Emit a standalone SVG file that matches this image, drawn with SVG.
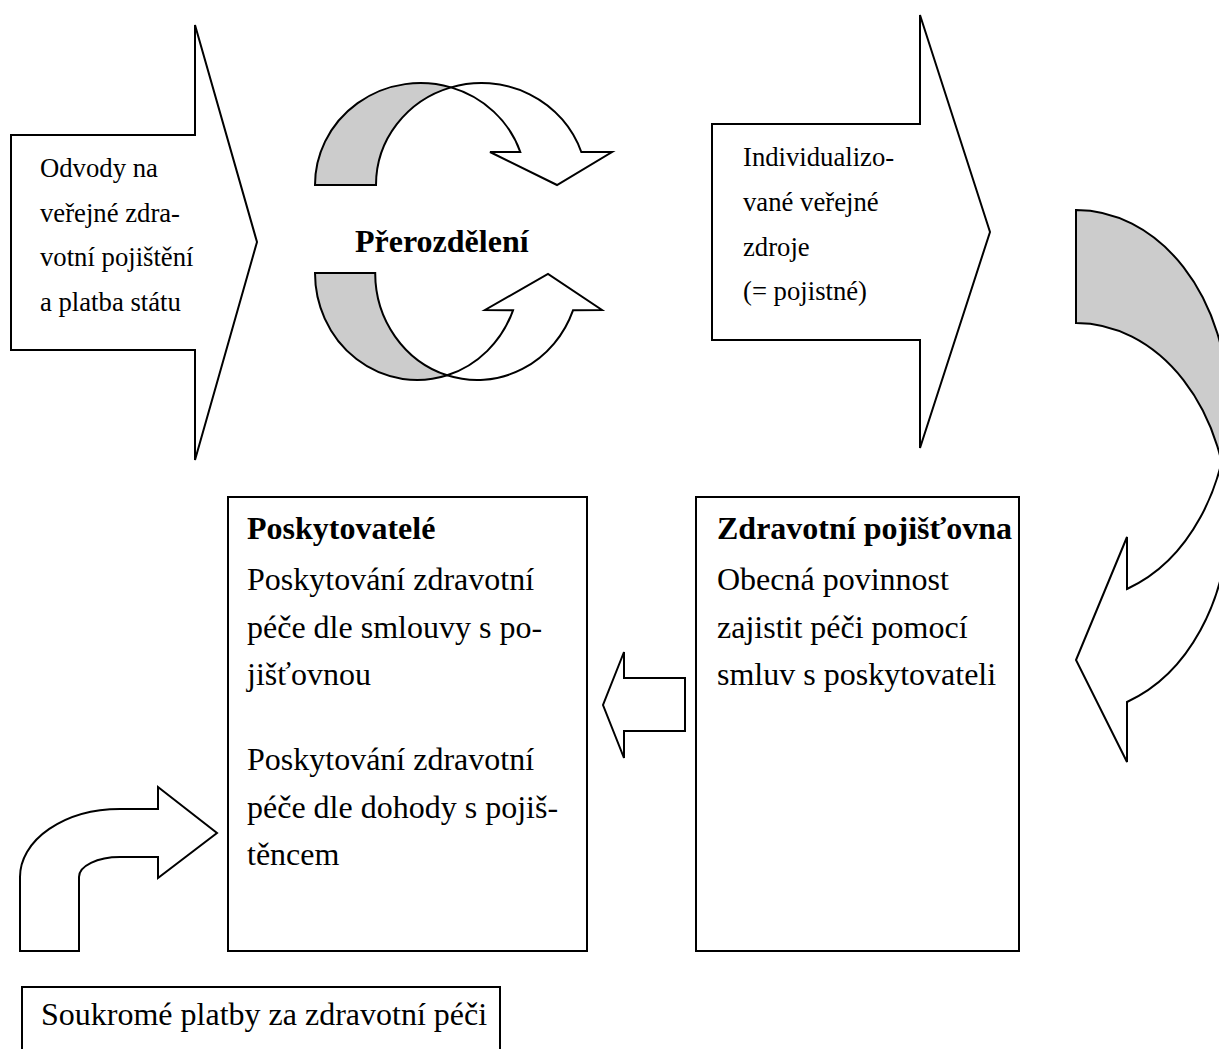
<svg xmlns="http://www.w3.org/2000/svg" width="1219" height="1049" viewBox="0 0 1219 1049">
<style>
.s{fill:#fff;stroke:#000;stroke-width:2;stroke-linejoin:miter}
.g{fill:#cccccc;stroke:#000;stroke-width:2}
.t{font-family:"Liberation Serif","Times New Roman",serif;fill:#000}
.sm{font-size:26.7px}
.md{font-size:32px}
.b{font-weight:bold}
</style>
<rect width="1219" height="1049" fill="#fff"/>
<g id="connectors">
<g id="redistribution-top">
<path class="g" d="M315,185 A105.5,102 0 0 1 451,87.4 A105.5,102 0 0 0 376,185 Z"/>
<path class="s" d="M451,87.4 A105.5,102 0 0 1 581.3,152 L612,152 L557,185 L490,152 L520.3,152 A105.5,102 0 0 0 451,87.4 Z"/>
</g>
<g id="redistribution-bottom">
<path class="g" d="M315,273 A102.2,107 0 0 0 447.2,375.3 A102.2,107 0 0 1 375.2,273 Z"/>
<path class="s" d="M447.2,375.3 A102.2,107 0 0 0 573,310.3 L602,310 L548,274 L485,310 L513,310.3 A102.2,107 0 0 1 447.2,375.3 Z"/>
</g>
<g id="curved-right">
<path class="g" d="M1076,210 A152,195 0 0 1 1228,405 L1228,518 A152,195 0 0 0 1076,323 Z"/>
<path class="s" d="M1228,405 A152,195 0 0 1 1127,589 L1127,537 L1076,660 L1127,762 L1127,702 A152,195 0 0 0 1228,518 Z"/>
</g>
<path id="arrow-to-providers" class="s" d="M685,678 L624,678 L624,652 L603,705 L624,758 L624,731 L685,731 Z"/>
<path id="bent-arrow" class="s" d="M20,951 L20,877 A100,68 0 0 1 120,809 L158,809 L158,787 L217,833 L158,878 L158,857 L120,857 A41,20 0 0 0 79,877 L79,951 Z"/>
</g>
<g id="odvody">
<path class="s" d="M11,135 L195,135 L195,25 L257,242 L195,460 L195,350 L11,350 Z"/>
<text class="t sm" x="40" y="177">Odvody na</text>
<text class="t sm" x="40" y="222">veřejné zdra-</text>
<text class="t sm" x="40" y="266">votní pojištění</text>
<text class="t sm" x="40" y="311">a platba státu</text>
</g>
<g id="prerozdeleni">
<text class="t md b" x="355" y="252">Přerozdělení</text>
</g>
<g id="individualizovane">
<path class="s" d="M712,124 L920,124 L920,15 L990,232 L920,448 L920,340 L712,340 Z"/>
<text class="t sm" x="743" y="166">Individualizo-</text>
<text class="t sm" x="743" y="211">vané veřejné</text>
<text class="t sm" x="743" y="256">zdroje</text>
<text class="t sm" x="743" y="300">(= pojistné)</text>
</g>
<g id="poskytovatele">
<rect class="s" x="228" y="497" width="359" height="454"/>
<text class="t md b" x="247" y="539">Poskytovatelé</text>
<text class="t md" x="247" y="590">Poskytování zdravotní</text>
<text class="t md" x="247" y="638">péče dle smlouvy s po-</text>
<text class="t md" x="247" y="685">jišťovnou</text>
<text class="t md" x="247" y="770">Poskytování zdravotní</text>
<text class="t md" x="247" y="818">péče dle dohody s pojiš-</text>
<text class="t md" x="247" y="865">těncem</text>
</g>
<g id="pojistovna">
<rect class="s" x="696" y="497" width="323" height="454"/>
<text class="t md b" x="717" y="539">Zdravotní pojišťovna</text>
<text class="t md" x="717" y="590">Obecná povinnost</text>
<text class="t md" x="717" y="638">zajistit péči pomocí</text>
<text class="t md" x="717" y="685">smluv s poskytovateli</text>
</g>
<g id="soukrome">
<rect class="s" x="22" y="987" width="478" height="80"/>
<text class="t md" x="41" y="1025">Soukromé platby za zdravotní péči</text>
</g>
</svg>
